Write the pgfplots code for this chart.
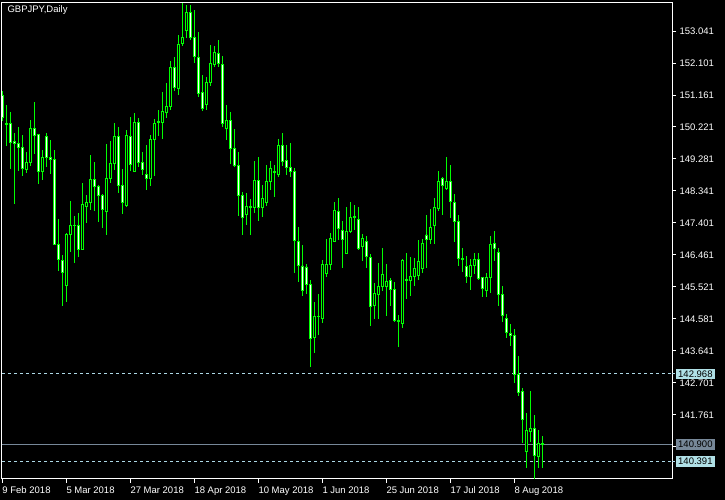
\documentclass[border=0pt]{standalone}
\usepackage{pgfplots}
\pgfplotsset{compat=1.18}
\usepackage{pgfplotstable}
\usepackage{fontspec}
\setmainfont{Liberation Sans}
\definecolor{mtgreen}{RGB}{0,255,0}
\definecolor{mtline}{RGB}{173,216,230}
\definecolor{mtbox}{RGB}{176,224,230}
\definecolor{mtgray}{RGB}{119,136,153}

\pgfplotstableread{
k o h l c
0 151.16 151.28 150.41 150.49
1 150.33 150.87 149.67 150.29
2 150.33 150.66 149.00 149.77
3 149.79 150.05 147.97 149.74
4 149.74 150.22 148.94 149.61
5 149.62 149.99 148.79 149.01
6 148.98 149.48 148.88 149.18
7 149.18 150.42 149.09 150.18
8 150.18 150.96 149.44 149.98
9 149.99 150.02 148.56 148.92
10 148.92 149.55 148.65 149.33
11 149.95 150.05 149.06 149.33
12 149.33 149.84 148.85 149.27
13 149.28 149.55 146.74 146.77
14 146.78 147.52 146.00 146.33
15 146.30 146.45 144.97 145.95
16 145.57 147.12 145.09 147.07
17 147.07 148.05 146.56 147.33
18 147.34 147.61 146.24 147.32
19 147.33 147.69 146.39 146.63
20 146.63 148.58 146.62 147.95
21 147.88 148.21 147.41 148.01
22 148.01 149.40 147.77 148.68
23 148.68 149.19 147.76 148.47
24 148.47 148.51 147.44 148.21
25 148.21 148.24 147.26 147.80
26 147.74 149.72 147.06 148.71
27 148.71 149.81 148.57 149.15
28 149.15 150.34 148.96 149.95
29 149.95 150.22 148.27 148.51
30 148.51 148.99 147.68 148.01
31 147.91 150.13 147.87 149.98
32 149.95 150.52 148.94 149.12
33 148.92 150.63 148.90 150.36
34 150.36 150.49 149.06 149.18
35 149.18 149.48 148.81 148.98
36 148.84 149.69 148.37 148.70
37 148.70 149.99 148.50 149.86
38 149.86 150.46 148.78 150.33
39 150.35 150.72 149.96 150.39
40 150.35 151.25 149.87 150.68
41 150.64 151.51 150.50 150.83
42 150.82 152.16 150.72 151.97
43 151.97 152.28 151.29 151.38
44 151.35 152.92 151.17 152.66
45 152.67 153.87 152.60 152.84
46 153.05 153.81 152.83 153.59
47 153.59 153.81 152.78 152.85
48 152.86 153.66 152.09 152.29
49 152.27 153.01 151.11 151.20
50 151.24 151.75 150.70 150.76
51 150.88 151.69 150.72 151.53
52 151.53 152.63 151.44 152.09
53 152.06 152.60 151.99 152.41
54 152.39 152.78 151.99 152.09
55 152.06 152.31 150.23 150.33
56 150.18 150.87 149.84 150.42
57 150.42 150.66 149.13 149.59
58 149.59 150.16 149.06 149.10
59 149.10 149.49 147.62 148.20
60 148.20 148.32 147.05 147.57
61 147.66 148.27 147.34 147.89
62 147.88 148.10 147.05 147.86
63 147.85 149.22 147.69 148.65
64 148.65 149.34 147.47 147.85
65 147.86 148.52 147.59 148.12
66 148.00 149.11 147.91 148.62
67 148.61 149.22 148.37 149.01
68 148.88 149.10 148.17 148.92
69 148.83 149.87 148.76 149.68
70 149.68 150.05 149.08 149.21
71 149.24 149.69 148.82 149.03
72 149.04 149.75 148.76 148.92
73 148.92 149.02 145.94 146.88
74 146.86 147.28 145.67 146.15
75 146.14 146.76 145.26 145.41
76 146.11 146.19 145.32 145.60
77 145.60 145.73 143.18 144.01
78 144.03 145.08 143.59 144.66
79 144.65 145.33 144.11 144.66
80 144.59 146.31 144.46 146.19
81 145.92 146.93 145.82 146.19
82 146.18 147.12 146.02 146.96
83 146.85 148.02 146.85 147.77
84 147.74 148.14 146.90 147.23
85 147.19 147.46 146.09 146.91
86 146.50 147.87 146.50 147.15
87 147.15 148.02 147.12 147.57
88 147.57 147.93 147.20 147.60
89 147.51 147.87 146.61 146.65
90 146.71 147.08 146.29 146.95
91 146.87 147.02 146.09 146.41
92 146.40 146.49 144.38 144.94
93 144.97 145.64 144.59 145.32
94 145.30 146.23 144.58 145.54
95 145.53 146.67 145.40 145.90
96 145.53 146.19 144.67 145.69
97 145.72 145.79 144.96 145.44
98 145.44 145.67 144.50 144.53
99 144.54 144.70 143.76 144.50
100 144.45 146.34 144.33 146.30
101 145.71 146.52 145.18 145.75
102 145.71 146.40 145.27 145.83
103 145.83 146.37 145.56 146.08
104 145.85 146.90 145.74 146.27
105 146.06 146.93 145.94 146.80
106 147.05 147.64 146.08 146.91
107 146.91 147.81 146.78 147.27
108 147.32 148.14 146.78 147.87
109 147.82 148.93 147.76 148.61
110 148.71 148.75 147.64 148.50
111 148.41 149.34 148.37 148.61
112 148.63 149.10 147.55 148.04
113 148.01 148.25 146.84 147.45
114 147.45 147.64 146.14 146.35
115 146.36 146.67 145.97 146.34
116 146.13 146.43 145.65 145.83
117 145.82 146.34 145.43 146.16
118 146.16 146.52 145.90 146.34
119 146.34 146.52 145.74 145.77
120 145.79 145.82 145.24 145.47
121 145.41 145.93 145.24 145.81
122 145.80 147.02 145.33 146.77
123 146.80 147.17 146.28 146.65
124 146.54 146.67 144.97 145.30
125 145.31 145.55 144.50 144.68
126 144.60 144.73 144.03 144.19
127 144.16 144.43 143.80 144.09
128 144.10 144.29 142.71 142.94
129 142.94 143.50 142.33 142.42
130 142.45 142.56 140.94 141.63
131 140.68 141.82 140.21 141.31
132 141.27 142.47 140.98 141.37
133 141.37 141.76 139.80 140.57
134 140.53 141.32 140.19 140.93
135 140.92 141.14 140.19 140.90
}\data

\pgfplotsset{mtbase/.style={at={(2pt,21pt)}, anchor=south west, scale only axis,
  width=670pt, height=476pt, xmin=-0.075, xmax=167.425, ymin=139.880, ymax=153.864}}

\begin{document}
\begin{tikzpicture}
\fill[black] (0,0) rectangle (725pt,500pt);
\useasboundingbox (0,0) rectangle (725pt,500pt);
\begin{axis}[mtbase,
  axis line style={white, line width=1pt},
  tick align=outside, xtick pos=left, ytick pos=right, xticklabel pos=left, yticklabel pos=right,
  major tick length=4pt, tick style={white, line width=1pt},
  xtick={0,16,32,48,64,80,96,112,128},
  xticklabels={9 Feb 2018,5 Mar 2018,27 Mar 2018,18 Apr 2018,10 May 2018,1 Jun 2018,25 Jun 2018,17 Jul 2018,8 Aug 2018},
  xticklabel style={anchor=north west, inner xsep=0pt, font=\fontsize{9.5}{11}\selectfont, text=white},
  ytick={140.821,141.761,142.701,143.641,144.581,145.521,146.461,147.401,148.341,149.281,150.221,151.161,152.101,153.041},
  yticklabels={{},141.761,142.701,143.641,144.581,145.521,146.461,147.401,148.341,149.281,150.221,151.161,152.101,153.041},
  yticklabel style={font=\fontsize{9.5}{11}\selectfont, text=white},
]
\addplot[mtline, dash pattern=on 3pt off 3pt, line width=1pt] coordinates {(-0.075,142.968) (167.425,142.968)};
\addplot[mtline, dash pattern=on 3pt off 3pt, line width=1pt] coordinates {(-0.075,140.391) (167.425,140.391)};
\addplot[mtgray, line width=1pt] coordinates {(-0.075,140.900) (167.425,140.900)};
\addplot[draw=none, mark=none, error bars/.cd, y dir=both, y explicit, error mark=none,
  error bar style={mtgreen, line width=1pt}]
  table[x=k, y expr={(\thisrow{h}+\thisrow{l})/2}, y error expr={(\thisrow{h}-\thisrow{l})/2}] {\data};
\coordinate (pa) at (axis cs:167.425,142.968);
\coordinate (pb) at (axis cs:167.425,140.900);
\coordinate (pc) at (axis cs:167.425,140.391);
\end{axis}
\begin{axis}[mtbase, hide axis, ybar stacked, bar width=0.5]
\addplot[draw=none, fill=none] table[x=k, y expr={min(\thisrow{o},\thisrow{c})}] {\data};
\addplot[draw=mtgreen, fill=black, line width=0.8pt] table[x=k, y expr={max(\thisrow{c}-\thisrow{o},0)}] {\data};
\addplot[draw=mtgreen, fill=white, line width=0.8pt] table[x=k, y expr={max(\thisrow{o}-\thisrow{c},0)}] {\data};
\end{axis}
\draw[mtline, dash pattern=on 3pt off 3pt, line width=1pt] (pa) -- ++(4pt,0);
\draw[mtline, dash pattern=on 3pt off 3pt, line width=1pt] (pc) -- ++(4pt,0);
\node[anchor=west, fill=mtbox, text=black, inner xsep=2pt, inner ysep=2pt, font=\fontsize{9.5}{11}\selectfont] at ([xshift=4pt]pa) {142.968};
\node[anchor=west, fill=mtgray, text=black, inner xsep=2pt, inner ysep=2pt, font=\fontsize{9.5}{11}\selectfont] at ([xshift=4pt]pb) {140.900};
\node[anchor=west, fill=mtbox, text=black, inner xsep=2pt, inner ysep=2pt, font=\fontsize{9.5}{11}\selectfont] at ([xshift=4pt]pc) {140.391};
\node[anchor=west, text=white, font=\fontsize{9.5}{11}\selectfont] at (4pt,490pt) {GBPJPY,Daily};
\end{tikzpicture}
\end{document}
